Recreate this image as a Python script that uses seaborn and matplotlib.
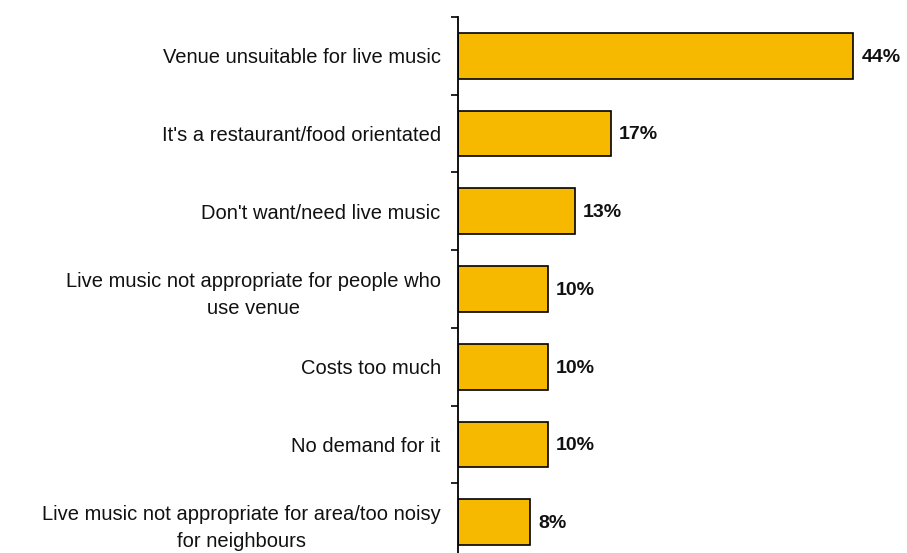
import matplotlib
matplotlib.use("Agg")
import matplotlib.pyplot as plt
import seaborn as sns
import pandas as pd
import numpy as np

reasons = [
    "Venue unsuitable for live music",
    "It's a restaurant/food orientated",
    "Don't want/need live music",
    "Live music not appropriate for people who\nuse venue",
    "Costs too much",
    "No demand for it",
    "Live music not appropriate for area/too noisy\nfor neighbours",
]
shares = [44, 17, 13, 10, 10, 10, 8]

df = pd.DataFrame({"reason": reasons, "share": shares})

sns.set_theme(style="white")
plt.rcParams["font.family"] = ["Liberation Sans", "DejaVu Sans"]

fig = plt.figure(figsize=(9.07, 5.53), dpi=100)
ax = fig.add_axes([458 / 907, -8 / 553, 449 / 907, 544 / 553])

sns.barplot(data=df, x="share", y="reason", orient="h", color="#F7B800",
            saturation=1, edgecolor="black", linewidth=1.2, width=0.59, ax=ax)

ax.set_xlim(0, 50)
ax.set_ylim(len(reasons) - 0.5, -0.5)
ax.set_xlabel("")
ax.set_ylabel("")
ax.set_xticks([])

for s in ["top", "right", "bottom"]:
    ax.spines[s].set_visible(False)
ax.spines["left"].set_color("black")
ax.spines["left"].set_linewidth(1.3)

# category labels sit between the boundary ticks
ax.set_yticks(range(len(reasons)))
ax.set_yticklabels(reasons, fontsize=14.5, color="#111111", ha="right",
                   multialignment="center", linespacing=1.55)
ax.tick_params(axis="y", which="major", length=0, pad=12.5)
ax.set_yticks(np.arange(-0.5, len(reasons), 1.0), minor=True)
ax.tick_params(axis="y", which="minor", length=5, width=1.2, color="black",
               direction="out", left=True)

for i, v in enumerate(shares):
    ax.annotate(f"{v}%", xy=(v, i), xytext=(6, -1), textcoords="offset points",
                ha="left", va="center", fontsize=14, fontweight="bold",
                color="#111111")

fig.savefig("out.png", dpi=100)
